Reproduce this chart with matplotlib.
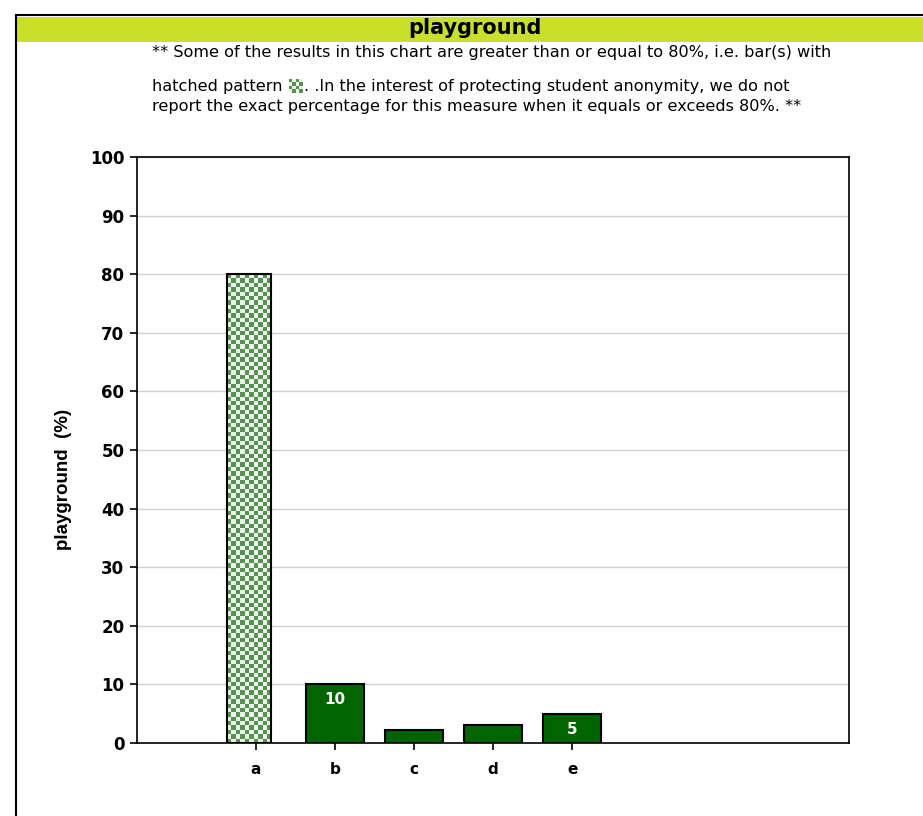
# playground chart: bar chart with checkerboard marking for suppressed values

import matplotlib
matplotlib.use("Agg")
import matplotlib.pyplot as plt
import numpy as np

categories = ["a", "b", "c", "d", "e"]
values = [80, 10, 2.2, 3.1, 4.9]
shown_labels = ["", "10", "", "", "5"]
suppressed = [True, False, False, False, False]
yticks = [0, 10, 20, 30, 40, 50, 60, 70, 80, 90, 100]

title = "playground"
ylabel = "playground  (%)"
note1 = "** Some of the results in this chart are greater than or equal to 80%, i.e. bar(s) with"
note2a = "hatched pattern"
note2b = ". .In the interest of protecting student anonymity, we do not"
note3 = "report the exact percentage for this measure when it equals or exceeds 80%. **"

plt.rcParams['font.family'] = ['DejaVu Sans']

W, H = 923, 816
fig = plt.figure(figsize=(W / 100, H / 100), dpi=100)

dark = "#5b8f55"
light = "#e8f7e5"


def checker(nr, nc):
    yy, xx = np.mgrid[0:nr, 0:nc]
    c = (yy + xx) % 2
    img = np.zeros((nr, nc, 3))
    img[c == 0] = matplotlib.colors.to_rgb(dark)
    img[c == 1] = matplotlib.colors.to_rgb(light)
    return img


def fx(px):
    return px / W


def fy(py):
    return 1 - py / H


# frame border and header band
fig.add_artist(plt.Line2D([fx(16), fx(16)], [fy(15), 0], color="black", lw=1.5))
fig.add_artist(plt.Line2D([fx(16), 1], [fy(15), fy(15)], color="black", lw=1.5))
fig.add_artist(plt.Rectangle((fx(17), fy(42)), 1 - fx(17), fy(17) - fy(42),
                             color="#c8e029", lw=0))
fig.text(fx(475), fy(28), title, ha="center", va="center", fontsize=15, fontweight="bold")

# note text
nfs = 11.6
fig.text(fx(152), fy(53), note1, ha="left", va="center", fontsize=nfs)
t2 = fig.text(fx(152), fy(86), note2a, ha="left", va="center", fontsize=nfs)
fig.text(fx(152), fy(107), note3, ha="left", va="center", fontsize=nfs)
r = fig.canvas.get_renderer()
end = t2.get_window_extent(r).x1
ix = end + 6
icon = fig.add_axes([ix / W, fy(93), fx(14), 14 / H])
icon.imshow(checker(4, 4), interpolation="nearest", aspect="auto")
icon.axis("off")
fig.text((ix + 15) / W, fy(86), note2b, ha="left", va="center", fontsize=nfs)

# main axes
ax = fig.add_axes([fx(137), fy(743), fx(849 - 137), (743 - 157) / H])
x = np.arange(len(categories))
ax.set_xlim(-1.5, 7.5)
ax.set_ylim(0, 100)

for i, v in enumerate(values):
    if suppressed[i]:
        bx, bw = i - 0.08, 0.56
        rect = plt.Rectangle((bx - bw / 2, 0), bw, v, facecolor="none",
                             edgecolor="black", lw=1.5, zorder=4)
        ax.add_patch(rect)
        ncols = 10
        nrows = int(round(v * 5.86 / 4.4))
        im = ax.imshow(checker(nrows, ncols), interpolation="nearest", aspect="auto",
                       extent=(bx - bw / 2, bx + bw / 2, 0, v), zorder=3)
        im.set_clip_path(rect)
    else:
        ax.bar(x[i], v, width=0.73, color="#006400", edgecolor="black", lw=1.5, zorder=3)
    if shown_labels[i]:
        ax.text(x[i], v - 2.6, shown_labels[i], ha="center", va="center",
                color="white", fontsize=11, fontweight="bold", zorder=5)

ax.set_xlim(-1.5, 7.5)
ax.set_ylim(0, 100)
ax.set_xticks(x)
ax.set_xticklabels(categories, fontsize=11, fontweight="bold")
ax.set_yticks(yticks)
ax.set_yticklabels([str(t) for t in yticks], fontsize=12, fontweight="bold")
ax.yaxis.grid(True, color="#d0d0d0", lw=1)
ax.set_axisbelow(True)
ax.tick_params(direction="out", length=5, width=1.2, pad=4)
ax.tick_params(axis="x", pad=9)
for s in ax.spines.values():
    s.set_linewidth(1.2)
ax.set_ylabel(ylabel, fontsize=13.5, fontweight="bold", family="Liberation Sans")
ax.yaxis.set_label_coords(-0.091, 0.449)

fig.savefig("out.png", dpi=100)
